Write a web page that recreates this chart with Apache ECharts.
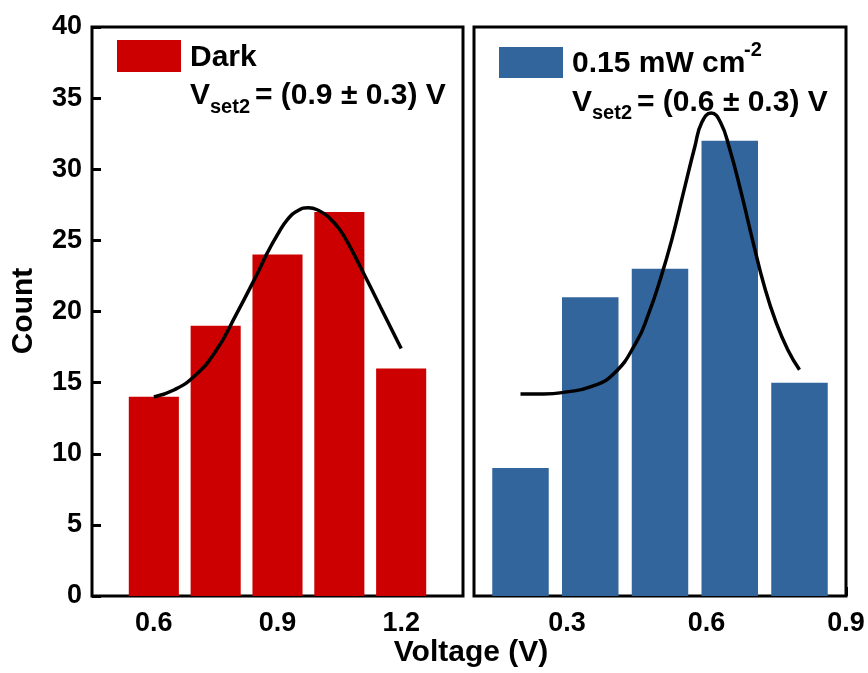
<!DOCTYPE html>
<html>
<head>
<meta charset="utf-8">
<script src="https://cdn.jsdelivr.net/npm/echarts@6/dist/echarts.min.js"></script>
<style>
html,body{margin:0;padding:0;background:#fff;}
#chart{width:868px;height:673px;}
</style>
</head>
<body>
<div id="chart"></div>
<script>
// ---- data ----
const darkVoltage = [0.6, 0.75, 0.9, 1.05, 1.2];
const darkCount = [14, 19, 24, 27, 16];
const lightVoltage = [0.2, 0.35, 0.5, 0.65, 0.8];
const lightCount = [9, 21, 23, 32, 15];

const darkFitX = [0.60, 0.65, 0.70, 0.75, 0.80, 0.85, 0.875, 0.90, 0.925, 0.95, 0.975, 1.00, 1.025, 1.05, 1.075, 1.10, 1.15, 1.20];
const darkFitY = [14.0, 14.5, 15.5, 17.2, 19.8, 22.6, 24.1, 25.4, 26.5, 27.1, 27.3, 27.1, 26.6, 25.8, 24.6, 23.2, 20.3, 17.4];
const lightFitX = [0.20, 0.25, 0.30, 0.35, 0.40, 0.45, 0.475, 0.50, 0.525, 0.55, 0.575, 0.59, 0.61, 0.63, 0.65, 0.675, 0.70, 0.725, 0.75, 0.775, 0.80];
const lightFitY = [14.2, 14.2, 14.35, 14.7, 15.6, 17.9, 19.8, 22.2, 25.0, 28.3, 31.6, 33.3, 33.95, 33.3, 31.4, 28.3, 24.9, 21.7, 19.2, 17.3, 15.9];

const darkTicks = [0.6, 0.9, 1.2];
const lightTicks = [0.3, 0.6, 0.9];
const binWidth = 0.15;

// ---- styles ----
const RED = '#CC0000';
const BLUE = '#33659D';
const FONT = 'Liberation Sans';
const barFrac = 0.81;

function zip(a, b) { return a.map((v, i) => [v, b[i]]); }

function barRenderer(color) {
  return function (params, api) {
    const x = api.value(0), y = api.value(1);
    const top = api.coord([x, y]);
    const base = api.coord([x, 0]);
    const w = api.size([binWidth, 0])[0] * barFrac;
    return {
      type: 'rect',
      shape: { x: top[0] - w / 2, y: top[1], width: w, height: base[1] - top[1] },
      style: { fill: color }
    };
  };
}

const labelStyle = { color: '#000', fontWeight: 'bold', fontFamily: FONT, fontSize: 27 };
const tickStyle = { show: true, inside: true, length: 9, lineStyle: { color: '#000', width: 3 } };

const chart = echarts.init(document.getElementById('chart'), null, { renderer: 'canvas' });
chart.setOption({
  animation: false,
  backgroundColor: '#fff',
  grid: [
    { left: 92, top: 27, width: 371, height: 569, show: true, borderColor: '#000', borderWidth: 3, containLabel: false },
    { left: 474, top: 27, width: 372, height: 569, show: true, borderColor: '#000', borderWidth: 3, containLabel: false }
  ],
  xAxis: [
    {
      type: 'value', gridIndex: 0, min: 0.45, max: 1.35,
      axisLine: { show: false },
      splitLine: { show: false },
      axisTick: Object.assign({ customValues: darkTicks }, tickStyle),
      axisLabel: Object.assign({ customValues: darkTicks, margin: 14, formatter: v => v.toFixed(1) }, labelStyle)
    },
    {
      type: 'value', gridIndex: 1, min: 0.1, max: 0.9,
      axisLine: { show: false },
      splitLine: { show: false },
      axisTick: Object.assign({ customValues: lightTicks }, tickStyle),
      axisLabel: Object.assign({ customValues: lightTicks, margin: 14, formatter: v => v.toFixed(1), showMaxLabel: true }, labelStyle)
    }
  ],
  yAxis: [
    {
      type: 'value', gridIndex: 0, min: 0, max: 40, interval: 5,
      axisLine: { show: false },
      splitLine: { show: false },
      axisTick: tickStyle,
      axisLabel: Object.assign({ margin: 10 }, labelStyle)
    },
    {
      type: 'value', gridIndex: 1, min: 0, max: 40, interval: 5,
      axisLine: { show: false },
      splitLine: { show: false },
      axisTick: { show: false },
      axisLabel: { show: false }
    }
  ],
  series: [
    {
      name: 'Dark', type: 'custom', xAxisIndex: 0, yAxisIndex: 0,
      renderItem: barRenderer(RED), encode: { x: 0, y: 1 },
      data: zip(darkVoltage, darkCount)
    },
    {
      name: '0.15 mW cm-2', type: 'custom', xAxisIndex: 1, yAxisIndex: 1,
      renderItem: barRenderer(BLUE), encode: { x: 0, y: 1 },
      data: zip(lightVoltage, lightCount)
    },
    {
      type: 'line', xAxisIndex: 0, yAxisIndex: 0, smooth: 0.5, symbol: 'none',
      lineStyle: { color: '#000', width: 3.5 },
      data: zip(darkFitX, darkFitY), z: 5
    },
    {
      type: 'line', xAxisIndex: 1, yAxisIndex: 1, smooth: 0.5, symbol: 'none',
      lineStyle: { color: '#000', width: 3.5 },
      data: zip(lightFitX, lightFitY), z: 5
    }
  ],
  graphic: [
    // axis titles
    { type: 'text', x: 471, y: 653, style: { text: 'Voltage (V)', fill: '#000', font: 'bold 30px "Liberation Sans"', align: 'center', verticalAlign: 'middle' } },
    { type: 'text', x: 24, y: 311, rotation: Math.PI / 2, style: { text: 'Count', fill: '#000', font: 'bold 30px "Liberation Sans"', align: 'center', verticalAlign: 'middle' } },
    // left legend
    { type: 'rect', shape: { x: 117, y: 40, width: 64, height: 32 }, style: { fill: RED } },
    { type: 'text', x: 190, y: 57.5, style: { text: 'Dark', fill: '#000', font: 'bold 30px "Liberation Sans"', align: 'left', verticalAlign: 'middle' } },
    { type: 'text', x: 190, y: 96, style: { text: 'V', fill: '#000', font: 'bold 30px "Liberation Sans"', align: 'left', verticalAlign: 'middle' } },
    { type: 'text', x: 210, y: 107, style: { text: 'set2', fill: '#000', font: 'bold 20px "Liberation Sans"', align: 'left', verticalAlign: 'middle' } },
    { type: 'text', x: 255, y: 96, style: { text: '= (0.9 ± 0.3) V', fill: '#000', font: 'bold 30px "Liberation Sans"', align: 'left', verticalAlign: 'middle' } },
    // right legend
    { type: 'rect', shape: { x: 499, y: 47, width: 64, height: 31 }, style: { fill: BLUE } },
    { type: 'text', x: 572, y: 63.5, style: { text: '0.15 mW cm', fill: '#000', font: 'bold 30px "Liberation Sans"', align: 'left', verticalAlign: 'middle' } },
    { type: 'text', x: 744, y: 50.5, style: { text: '-2', fill: '#000', font: 'bold 20px "Liberation Sans"', align: 'left', verticalAlign: 'middle' } },
    { type: 'text', x: 572, y: 102.5, style: { text: 'V', fill: '#000', font: 'bold 30px "Liberation Sans"', align: 'left', verticalAlign: 'middle' } },
    { type: 'text', x: 592, y: 113, style: { text: 'set2', fill: '#000', font: 'bold 20px "Liberation Sans"', align: 'left', verticalAlign: 'middle' } },
    { type: 'text', x: 637, y: 102.5, style: { text: '= (0.6 ± 0.3) V', fill: '#000', font: 'bold 30px "Liberation Sans"', align: 'left', verticalAlign: 'middle' } }
  ]
});
</script>
</body>
</html>
